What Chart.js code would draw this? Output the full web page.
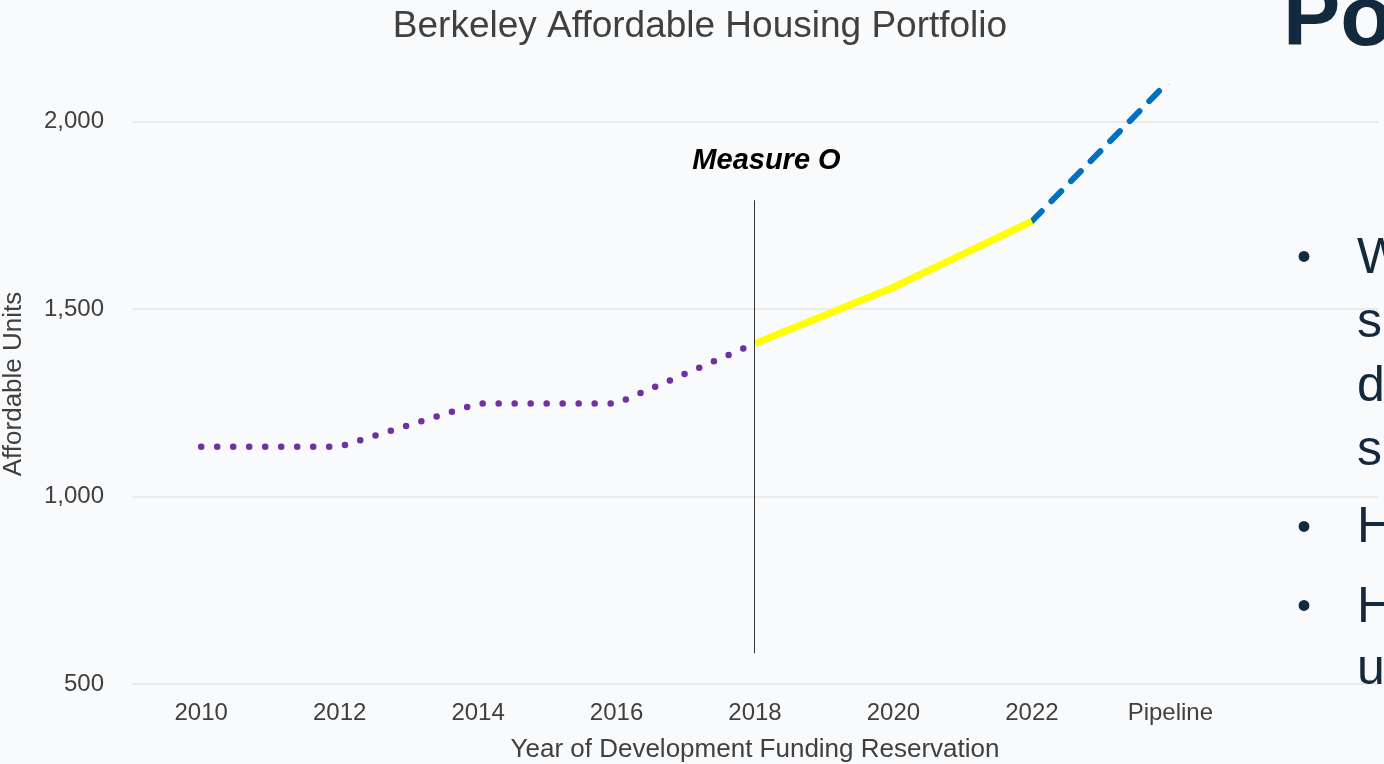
<!DOCTYPE html>
<html>
<head>
<meta charset="utf-8">
<title>Berkeley Affordable Housing Portfolio</title>
<script src="https://cdn.jsdelivr.net/npm/chart.js@4/dist/chart.umd.min.js"></script>
<style>
    html, body { margin: 0; padding: 0; background: #f9fafc; }
    #wrap { position: relative; width: 1384px; height: 764px; overflow: hidden; }
    #chart { position: absolute; left: 0; top: 0; }
    .slide { position: absolute; color: #13293d; font-family: 'Liberation Sans', Arial, sans-serif; white-space: nowrap; line-height: 1; }
</style>
</head>
<body>
<div id="wrap">
    <canvas id="chart" width="1384" height="764"></canvas>
    <div class="slide" style="left:1283px; top:-28px; font-size:86px; font-weight:bold;">Po</div>
    <div class="slide" style="left:1297px; top:236px; font-size:40px;">•</div>
    <div class="slide" style="left:1357px; top:231px; font-size:50px;">W</div>
    <div class="slide" style="left:1357px; top:295px; font-size:50px;">s</div>
    <div class="slide" style="left:1357px; top:359px; font-size:50px;">d</div>
    <div class="slide" style="left:1357px; top:423px; font-size:50px;">s</div>
    <div class="slide" style="left:1297px; top:506px; font-size:40px;">•</div>
    <div class="slide" style="left:1357px; top:500px; font-size:50px;">H</div>
    <div class="slide" style="left:1297px; top:585px; font-size:40px;">•</div>
    <div class="slide" style="left:1357px; top:580px; font-size:50px;">H</div>
    <div class="slide" style="left:1357px; top:642px; font-size:50px;">u</div>
</div>
<script>
// values
const yearLabels = ['2010', '2012', '2014', '2016', '2018', '2020', '2022', 'Pipeline', ''];
const beforeMeasureO = [1133, 1133, 1248, 1248, 1408, null, null, null, null];
const afterMeasureO = [null, null, null, null, 1408, 1558, 1734, null, null];
const pipelineUnits = [null, null, null, null, null, null, 1734, 2112, null];
const yTickValues = [500, 1000, 1500, 2000];

const chartTitle = 'Berkeley Affordable Housing Portfolio';
const measureOYear = '2018';
const measureOLineRange = [582, 1790];
const measureOLabelValue = 1896;

const fontFamily = "'Liberation Sans', Arial, sans-serif";

window.addEventListener('load', () => {
    buildPortfolioChart();
});

// title sits over the whole slide width, not the chart box
const slideTitlePlugin = {
    id: 'slideTitle',
    afterDraw(chart) {
        const ctx = chart.ctx;
        ctx.save();
        ctx.fillStyle = '#404040';
        ctx.font = '37px ' + fontFamily;
        ctx.textAlign = 'center';
        ctx.textBaseline = 'alphabetic';
        ctx.fillText(chartTitle, 700, 37);
        ctx.restore();
    }
};

const measureOPlugin = {
    id: 'measureO',
    afterDatasetsDraw(chart) {
        const { ctx, scales: { x, y } } = chart;
        const px = Math.round(x.getPixelForValue(yearLabels.indexOf(measureOYear))) - 0.5;

        ctx.save();
        ctx.strokeStyle = '#333333';
        ctx.lineWidth = 1;
        ctx.beginPath();
        ctx.moveTo(px, y.getPixelForValue(measureOLineRange[1]));
        ctx.lineTo(px, y.getPixelForValue(measureOLineRange[0]));
        ctx.stroke();

        ctx.fillStyle = '#000000';
        ctx.font = 'italic bold 29px ' + fontFamily;
        ctx.textAlign = 'center';
        ctx.textBaseline = 'middle';
        ctx.fillText('Measure O', px + 12, y.getPixelForValue(measureOLabelValue));
        ctx.restore();
    }
};

function buildPortfolioChart() {
    Chart.defaults.font.family = fontFamily;
    const chartCtx = document.getElementById('chart').getContext('2d');

    const chart = new Chart(chartCtx, {
        type: 'line',
        data: {
            labels: yearLabels,
            datasets: buildPortfolioDatasets()
        },
        options: {
            responsive: false,
            animation: false,
            devicePixelRatio: 1,
            layout: {
                padding: { left: 0, right: 6, top: 84, bottom: 0 }
            },
            plugins: {
                legend: { display: false },
                tooltip: { enabled: false },
                title: { display: false }
            },
            scales: {
                x: {
                    offset: true,
                    afterFit: axis => { axis.height = 80; },
                    grid: { display: false, drawTicks: false },
                    border: { display: false },
                    ticks: {
                        color: '#404040',
                        font: { size: 24 },
                        padding: 15,
                        maxRotation: 0,
                        autoSkip: false
                    },
                    title: {
                        display: true,
                        text: 'Year of Development Funding Reservation',
                        color: '#404040',
                        font: { size: 26, lineHeight: 1.1 },
                        padding: { top: 9, bottom: 0 }
                    }
                },
                y: {
                    min: 500,
                    max: 2100,
                    afterBuildTicks: axis => {
                        axis.ticks = yTickValues.map(v => ({ value: v }));
                    },
                    afterFit: axis => { axis.width = 132; },
                    grid: { color: '#ebebeb', lineWidth: 2, drawTicks: false },
                    border: { display: false },
                    ticks: {
                        color: '#404040',
                        font: { size: 24 },
                        padding: 28,
                        callback: v => v.toLocaleString('en-US')
                    },
                    title: {
                        display: true,
                        text: 'Affordable Units',
                        color: '#404040',
                        font: { size: 26, lineHeight: 1.1 },
                        padding: { top: 0, bottom: 0 }
                    }
                }
            }
        },
        plugins: [measureOPlugin, slideTitlePlugin]
    });
}

function buildPortfolioDatasets() {

    return [{
        label: 'Before Measure O',
        data: beforeMeasureO,
        borderColor: '#7030a0',
        borderWidth: 6.5,
        borderDash: [0, 16],
        borderCapStyle: 'round',
        tension: 0,
        pointRadius: 0
    }, {
        label: 'After Measure O',
        data: afterMeasureO,
        borderColor: '#ffff00',
        borderWidth: 7,
        tension: 0,
        pointRadius: 0
    }, {
        label: 'Pipeline',
        data: pipelineUnits,
        borderColor: '#0070c0',
        borderWidth: 6,
        borderDash: [14, 14],
        borderCapStyle: 'round',
        tension: 0,
        pointRadius: 0,
        clip: 0
    }];
}
</script>
</body>
</html>
